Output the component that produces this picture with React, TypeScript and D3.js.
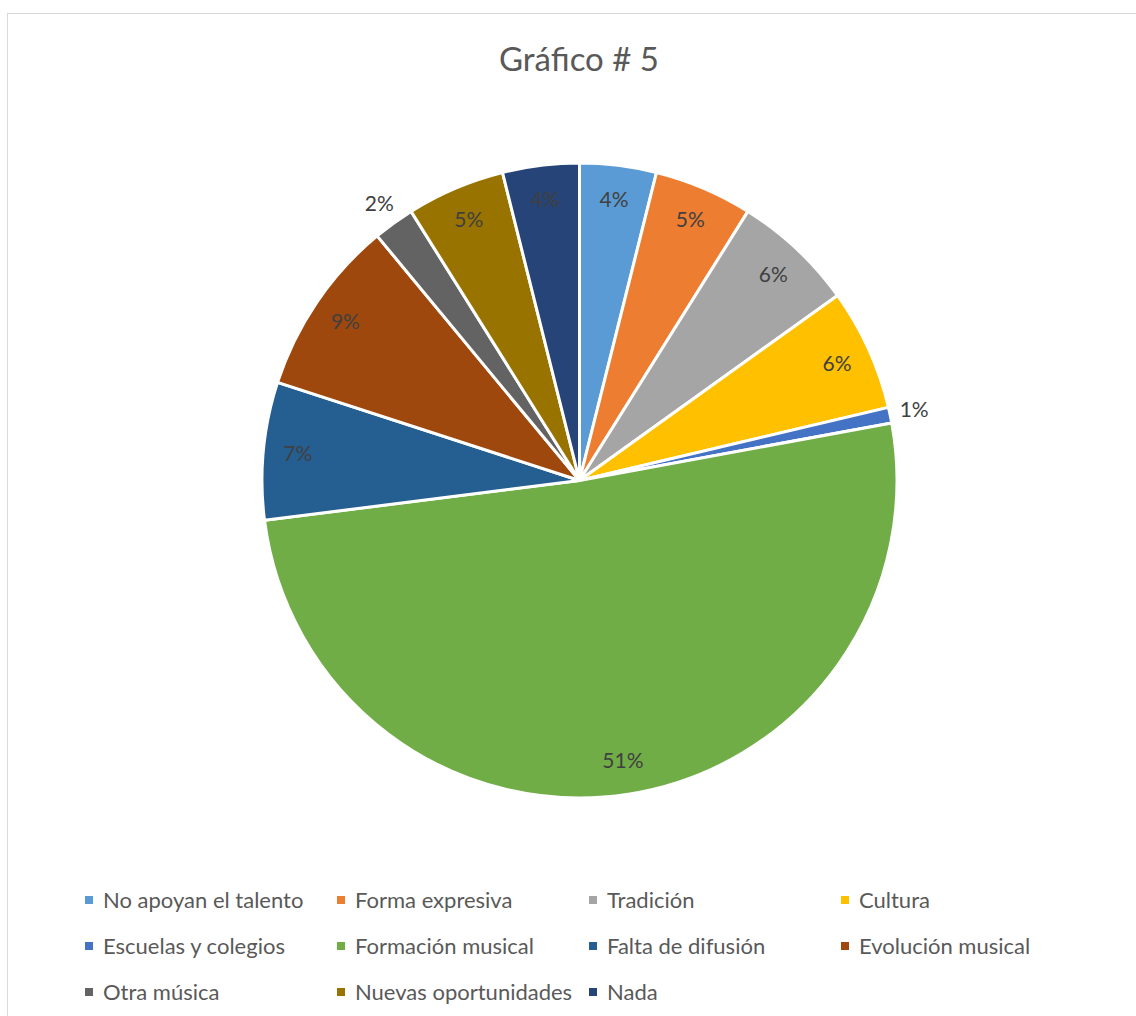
import React from "react";
import * as d3 from "d3";

const categories = [
  "No apoyan el talento",
  "Forma expresiva",
  "Tradición",
  "Cultura",
  "Escuelas y colegios",
  "Formación musical",
  "Falta de difusión",
  "Evolución musical",
  "Otra música",
  "Nuevas oportunidades",
  "Nada",
];
const values = [3.9, 5.0, 6.2, 6.2, 0.8, 50.9, 7.0, 9.0, 2.1, 5.0, 3.9];
const colors = [
  "#5B9BD5", "#ED7D31", "#A5A5A5", "#FFC000", "#4472C4", "#70AD47",
  "#255E91", "#9E480E", "#636363", "#997300", "#264478",
];
const outsideLabels = ["Escuelas y colegios", "Otra música"];

const W = 1136, H = 1016;
const cx = 579.5, cy = 480.5, R = 317.5;
const FONT = "Lato, 'Open Sans', sans-serif";

export default function App() {
  const total = d3.sum(values);
  const pie = d3.pie<number>().value((d) => d).sort(null);
  const arcs = pie(values);
  const arc = d3.arc<d3.PieArcDatum<number>>().innerRadius(0).outerRadius(R);
  const inArc = d3.arc<d3.PieArcDatum<number>>().innerRadius(283).outerRadius(283);
  const outArc = d3.arc<d3.PieArcDatum<number>>().innerRadius(342).outerRadius(342);

  const legendX = d3.scaleBand<number>().domain([0, 1, 2, 3]).range([86, 86 + 252 * 4]);
  const legendY = d3.scaleBand<number>().domain([0, 1, 2]).range([877, 877 + 46 * 3]);

  return (
    <svg width={W} height={H} style={{ position: "absolute", left: 0, top: 0 }}>
      <rect x={0} y={0} width={W} height={H} fill="#fff" />
      <rect x={7.5} y={13.5} width={W + 20} height={H + 20} fill="#fff" stroke="#d9d9d9" strokeWidth={1} />
      <text x={579} y={71} textAnchor="middle" fontFamily={FONT} fontSize={33} fill="#595959">
        Gráfico # 5
      </text>
      <g transform={`translate(${cx},${cy})`}>
        {arcs.map((a, i) => (
          <path key={i} d={arc(a) || ""} fill={colors[i]} stroke="#fff" strokeWidth={3} strokeLinejoin="round" />
        ))}
        {arcs.map((a, i) => {
          const outside = outsideLabels.includes(categories[i]);
          const [x, y] = outside ? outArc.centroid(a) : inArc.centroid(a);
          return (
            <text key={"l" + i} x={x} y={y} dy="0.35em" textAnchor="middle" fontFamily={FONT} fontSize={21} fill="#404040">
              {`${Math.round((values[i] / total) * 100)}%`}
            </text>
          );
        })}
      </g>
      <g>
        {categories.map((c, i) => {
          const col = i % 4, row = Math.floor(i / 4);
          const x = legendX(col)!;
          const y = legendY(row)! + 23;
          return (
            <g key={c}>
              <rect x={x - 1} y={y - 4} width={8} height={8} fill={colors[i]} />
              <text x={x + 17} y={y} dy="0.35em" fontFamily={FONT} fontSize={22} fill="#595959">
                {c}
              </text>
            </g>
          );
        })}
      </g>
    </svg>
  );
}
